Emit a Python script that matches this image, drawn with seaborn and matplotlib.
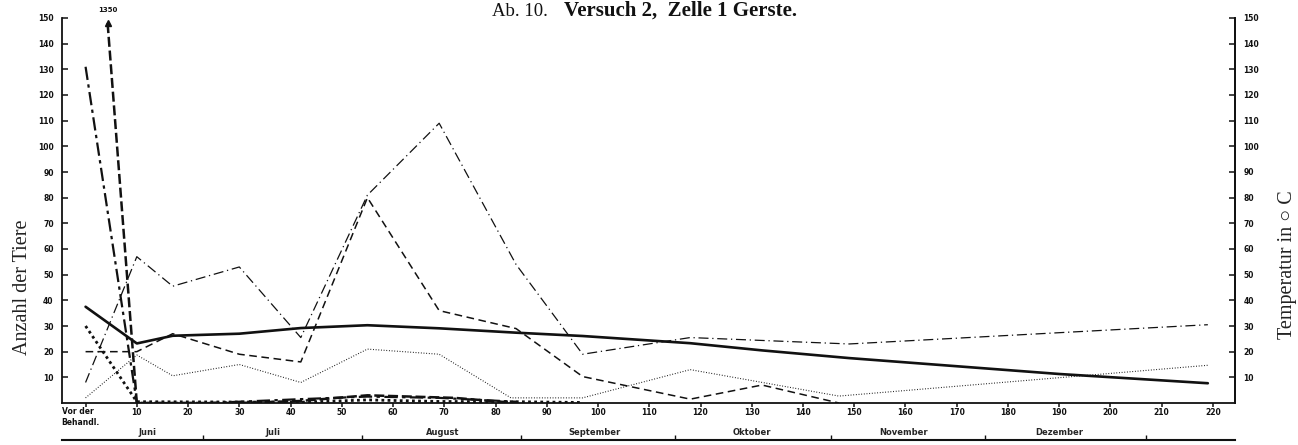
import matplotlib
matplotlib.use("Agg")
import matplotlib.pyplot as plt
import seaborn as sns
import pandas as pd

# ---------------- data ----------------
# days after treatment (0 = "Vor der Behandl.")
temp_days = [0, 10, 17, 30, 42, 55, 69, 84, 97, 118, 132, 149, 190, 219]
temp_vals = [37.5, 23.2, 26.2, 27, 29.2, 30.3, 29.1, 27.4, 26.1, 23.3, 20.5, 17.5, 11.3, 7.7]

dashdot_days = [0, 10, 17, 30, 42, 55, 69, 84, 97, 118, 149, 219]
dashdot_vals = [8, 57, 45.5, 53, 25.5, 81, 109, 54, 19, 25.5, 23, 30.5]

dashed_days = [0, 10, 17, 30, 42, 55, 69, 84, 97, 118, 132, 147]
dashed_vals = [20, 20, 27, 19, 16, 80, 36, 29, 10.3, 1.5, 7, 0]

dotted_days = [0, 10, 17, 30, 42, 55, 69, 83, 97, 118, 147, 219]
dotted_vals = [2, 18.7, 10.6, 15, 8, 21, 19, 2, 2, 13, 2.7, 14.7]

heavy_dashed_days = [4.3, 10, 30, 42, 55, 72, 84]
heavy_dashed_vals = [148, 0, 0, 0.8, 3, 2, 0]
heavy_dashed_peak_label = "1350"

heavy_dashdot_days = [0, 10, 24, 42, 55, 69, 84]
heavy_dashdot_vals = [131, 0, 0, 1.5, 2.5, 2, 0.5]

heavy_dotted_days = [0, 10, 42, 55, 69, 84, 97]
heavy_dotted_vals = [30, 0.5, 0.3, 1.2, 0.6, 0.5, 0.2]

x_ticks = [0, 10, 20, 30, 40, 50, 60, 70, 80, 90, 100, 110, 120, 130, 140,
           150, 160, 170, 180, 190, 200, 210, 220]
first_tick_label = "Vor der\nBehandl."
x_ticklabels = [""] + [str(t) for t in x_ticks[1:]]
y_ticks = [10, 20, 30, 40, 50, 60, 70, 80, 90, 100, 110, 120, 130, 140, 150]

month_bounds = [23, 54, 85, 115, 145.5, 175.5, 207]
month_centers = [12, 36.5, 69.6, 99.4, 130, 159.6, 190]
month_names = ["Juni", "Juli", "August", "September", "Oktober", "November", "Dezember"]

title_left = "Ab. 10."
title_right = "Versuch 2,  Zelle 1 Gerste."
ylabel_left = "Anzahl der Tiere"
ylabel_right = "Temperatur in \u25cb C"

# ---------------- styling ----------------
sns.set_style("ticks")
plt.rcParams["font.family"] = ["DejaVu Sans"]
INK = "#111111"
TICKFS = 5.5

fig = plt.figure(figsize=(12.98, 4.45), dpi=100)
ax = fig.add_axes([62 / 1298, 1 - 403 / 445, 1173 / 1298, 385 / 445])

series = [
    (temp_days, temp_vals, dict(lw=1.9, linestyle="-")),
    (dashdot_days, dashdot_vals, dict(lw=0.9, dashes=(8, 3, 1, 3))),
    (dashed_days, dashed_vals, dict(lw=1.1, dashes=(5, 3))),
    (dotted_days, dotted_vals, dict(lw=0.8, dashes=(0.8, 1.6))),
    (heavy_dashed_days, heavy_dashed_vals, dict(lw=1.8, dashes=(4, 1.5))),
    (heavy_dashdot_days, heavy_dashdot_vals, dict(lw=1.6, dashes=(6, 2, 1.5, 2))),
    (heavy_dotted_days, heavy_dotted_vals, dict(lw=2.0, dashes=(1, 1.2))),
]
for d, v, kw in series:
    df = pd.DataFrame({"day": d, "n": v})
    style = dict(kw)
    dashes = style.pop("dashes", None)
    sns.lineplot(x="day", y="n", data=df, ax=ax, color=INK, sort=False,
                 estimator=None, legend=False, **style)
    if dashes is not None:
        ax.lines[-1].set_dashes(dashes)

# arrow head and off-scale value of the heavy dashed series
ax.plot([heavy_dashed_days[0]], [heavy_dashed_vals[0]], marker="^", ms=4,
        color=INK, clip_on=False)
ax.text(heavy_dashed_days[0], 152, heavy_dashed_peak_label, ha="center",
        va="bottom", fontsize=5, fontweight="bold", color=INK, clip_on=False)

ax.set_xlim(-4.6, 224.3)
ax.set_ylim(0, 150)
ax.set_xlabel("")
ax.set_ylabel("")

ax.set_xticks(x_ticks)
ax.set_xticklabels(x_ticklabels, fontsize=TICKFS, fontweight="bold")
ax.annotate(first_tick_label, xy=(x_ticks[0], 0), xycoords=("data", "axes fraction"),
            xytext=(-17.3, -3.2), textcoords="offset points", ha="left", va="top",
            multialignment="left", fontsize=TICKFS, fontweight="bold", color=INK,
            annotation_clip=False)
ax.set_yticks(y_ticks)
ax.set_yticklabels([str(t) for t in y_ticks], fontsize=TICKFS, fontweight="bold")
ax.tick_params(axis="x", direction="out", length=3, width=1.1, pad=0.8, colors=INK)
ax.tick_params(axis="y", direction="in", length=4.5, width=1.1, pad=6, colors=INK)

for s in ["left", "bottom", "right"]:
    ax.spines[s].set_linewidth(1.3)
    ax.spines[s].set_color(INK)
ax.spines["top"].set_visible(False)

ax2 = ax.twinx()
ax2.set_ylim(0, 150)
ax2.set_yticks(y_ticks)
ax2.set_yticklabels([str(t) for t in y_ticks], fontsize=TICKFS, fontweight="bold")
ax2.tick_params(axis="y", direction="in", length=4.5, width=1.1, pad=6, colors=INK)
for s in ["left", "bottom", "top"]:
    ax2.spines[s].set_visible(False)
ax2.spines["right"].set_linewidth(1.3)
ax2.spines["right"].set_color(INK)

# month bar below the axis
sec = ax.secondary_xaxis(-0.096)
sec.set_xticks(month_bounds)
sec.set_xticklabels([""] * len(month_bounds))
sec.set_xticks(month_centers, labels=month_names, minor=True)
sec.tick_params(which="major", direction="in", length=3.5, width=1.0, colors=INK)
sec.tick_params(which="minor", length=0, pad=-8.5)
for lab in sec.get_xticklabels(minor=True):
    lab.set_fontsize(6)
    lab.set_fontweight("bold")
sec.spines["bottom"].set_linewidth(1.5)
sec.spines["bottom"].set_color(INK)

# axis titles
serif = ["Liberation Serif", "DejaVu Serif", "DejaVu Sans"]
ax.set_ylabel(ylabel_left, family=serif, fontsize=14.5, color="#222222",
              va="center", ha="center")
ax.yaxis.set_label_coords(-0.034, 0.30)
ax2.set_ylabel(ylabel_right, family=serif, fontsize=14.5, color="#222222",
               va="center", ha="center", rotation=90)
ax2.yaxis.set_label_coords(1.045, 0.36)

fig.text(548 / 1298, 1 - 11 / 445, title_left, ha="right", va="center",
         family=serif, fontsize=13.5, color=INK)
fig.text(564 / 1298, 1 - 11 / 445, title_right, ha="left", va="center",
         family=serif, fontsize=15, fontweight="bold", color=INK)

fig.savefig("out.png", dpi=100)
